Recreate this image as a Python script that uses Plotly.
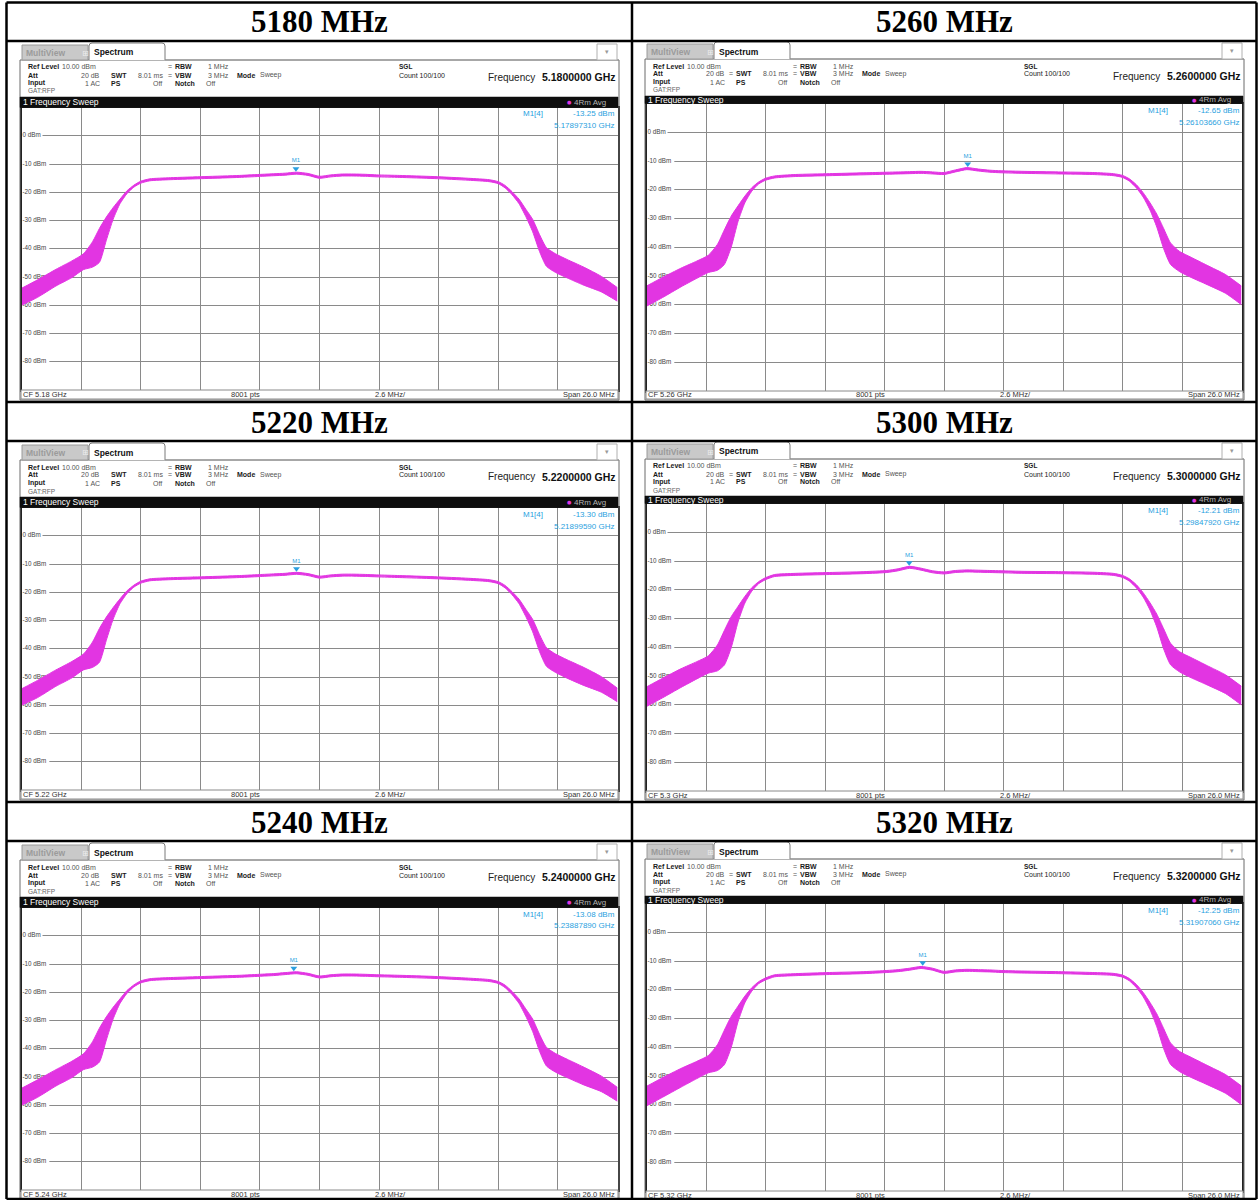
import plotly.graph_objects as go

W, H = 1259, 1200

# ---------------- data ----------------
TITLES = ["5180 MHz", "5260 MHz", "5220 MHz", "5300 MHz", "5240 MHz", "5320 MHz"]
CENTER_GHZ = [5.18, 5.26, 5.22, 5.30, 5.24, 5.32]
SPAN_MHZ = 26.0
POINTS = 8001
Y_TICKS = [0, -10, -20, -30, -40, -50, -60, -70, -80]
REF_LEVEL = 10
Y_BOTTOM = -90

FREQ_OFFSET_MHZ = [-13, -12.3, -11.5, -10.8, -10.3, -9.9, -9.6, -9.3, -9.0, -8.7, -8.4, -8.1, -7.8, -7.4,
                   -6.5, -5, -3.5, -2.5, -2.0, -1.5, -1.0, -0.5, 0, 0.5, 1.0, 1.5, 2.0, 2.5, 3.5, 5, 6.5,
                   7.4, 7.8, 8.1, 8.4, 8.7, 9.0, 9.3, 9.6, 9.9, 10.3, 10.8, 11.5, 12.3, 13]

UP_5180 = [-54.0, -51.0, -47.3, -44.3, -41.8, -37.5, -32.8, -28.8, -25.4, -22.4, -19.5, -17.5, -16.1, -15.25,
           -14.85, -14.45, -14.05, -13.65, -13.45, -13.25, -12.9, -13.35, -14.35, -13.85, -13.55, -13.55, -13.65,
           -13.85, -14.05, -14.45, -15.05, -15.55, -16.25, -17.6, -19.8, -22.4, -26.0, -29.6, -35.0, -39.6,
           -41.8, -43.8, -46.4, -49.8, -53.8]
LO_5180 = [-60.0, -57.2, -53.2, -50.2, -47.4, -46.5, -44.8, -37.0, -29.5, -24.0, -20.5, -18.2, -16.8, -15.95,
           -15.55, -15.15, -14.75, -14.35, -14.15, -13.95, -13.6, -14.05, -15.05, -14.55, -14.25, -14.25, -14.35,
           -14.55, -14.75, -15.15, -15.75, -16.25, -16.95, -18.5, -20.9, -24.0, -28.6, -34.0, -41.0, -46.2,
           -48.4, -50.3, -52.8, -55.3, -58.6]

UP_5220 = [-54.2, -51.2, -47.5, -44.5, -41.9, -37.6, -32.8, -28.8, -25.4, -22.3, -19.5, -17.5, -16.1, -15.25,
           -14.85, -14.5, -14.1, -13.7, -13.5, -13.3, -12.95, -13.4, -14.3, -13.85, -13.6, -13.6, -13.7,
           -13.85, -14.1, -14.5, -15.05, -15.55, -16.25, -17.6, -19.8, -22.4, -26.0, -29.6, -35.0, -39.6,
           -41.9, -43.9, -46.5, -49.9, -54.0]
LO_5220 = [-60.0, -57.3, -53.3, -50.3, -47.5, -46.6, -44.8, -37.0, -29.5, -24.0, -20.5, -18.2, -16.8, -15.95,
           -15.55, -15.2, -14.8, -14.4, -14.2, -14.0, -13.65, -14.1, -15.0, -14.55, -14.3, -14.3, -14.4,
           -14.55, -14.8, -15.2, -15.75, -16.25, -16.95, -18.5, -20.9, -24.0, -28.6, -34.0, -41.0, -46.2,
           -48.4, -50.4, -52.9, -55.4, -58.8]

UP_5240 = [-54.0, -51.0, -47.4, -44.4, -41.8, -37.5, -32.7, -28.7, -25.3, -22.3, -19.4, -17.4, -16.0, -15.2,
           -14.8, -14.4, -14.0, -13.6, -13.4, -13.05, -12.75, -13.3, -14.25, -13.8, -13.55, -13.55, -13.65,
           -13.8, -14.0, -14.4, -15.0, -15.5, -16.2, -17.5, -19.7, -22.3, -25.9, -29.5, -34.9, -39.5,
           -41.7, -43.7, -46.4, -49.7, -53.7]
LO_5240 = [-60.0, -57.2, -53.2, -50.2, -47.4, -46.5, -44.7, -36.9, -29.4, -23.9, -20.4, -18.1, -16.7, -15.9,
           -15.5, -15.1, -14.7, -14.3, -14.1, -13.75, -13.45, -14.0, -14.95, -14.5, -14.25, -14.25, -14.35,
           -14.5, -14.7, -15.1, -15.7, -16.2, -16.9, -18.4, -20.8, -23.9, -28.5, -33.9, -40.9, -46.1,
           -48.3, -50.2, -52.7, -55.2, -58.6]

UP_5260 = [-53.5, -50.5, -47.3, -44.8, -42.8, -39.0, -34.0, -29.2, -25.6, -22.2, -19.3, -17.3, -16.0, -15.2,
           -14.7, -14.4, -14.1, -13.9, -13.8, -13.7, -13.6, -13.8, -14.0, -13.1, -12.3, -12.8, -13.2,
           -13.4, -13.6, -13.8, -14.0, -14.4, -15.0, -16.2, -18.2, -21.0, -24.5, -28.5, -33.5, -38.5,
           -41.5, -43.5, -46.3, -49.5, -53.5]
LO_5260 = [-60.5, -57.5, -53.8, -50.8, -48.8, -48.0, -46.0, -40.0, -31.0, -24.5, -20.5, -18.0, -16.7, -15.9,
           -15.4, -15.1, -14.8, -14.6, -14.5, -14.4, -14.3, -14.5, -14.7, -13.8, -13.0, -13.5, -13.9,
           -14.1, -14.3, -14.5, -14.7, -15.1, -15.7, -17.0, -19.3, -22.5, -27.0, -33.0, -40.5, -46.0,
           -48.5, -50.5, -53.0, -56.0, -60.0]

UP_5300 = [-53.8, -50.8, -47.5, -45.0, -43.0, -39.2, -34.2, -29.4, -25.8, -22.3, -19.3, -17.2, -15.8, -14.7,
           -14.3, -14.0, -13.7, -13.3, -12.7, -11.85, -12.5, -13.4, -13.8, -13.3, -13.1, -13.2, -13.3,
           -13.4, -13.6, -13.7, -13.9, -14.3, -15.0, -16.2, -18.2, -21.0, -24.5, -28.5, -33.6, -38.6,
           -41.6, -43.6, -46.4, -49.6, -53.6]
LO_5300 = [-60.6, -57.6, -54.0, -51.0, -49.0, -48.2, -46.2, -40.2, -31.2, -24.6, -20.5, -17.9, -16.5, -15.4,
           -15.0, -14.7, -14.4, -14.0, -13.4, -12.55, -13.2, -14.1, -14.5, -14.0, -13.8, -13.9, -14.0,
           -14.1, -14.3, -14.4, -14.6, -15.0, -15.7, -17.0, -19.3, -22.5, -27.0, -33.0, -40.6, -46.1,
           -48.6, -50.6, -53.1, -56.1, -60.1]

UP_5320 = [-53.6, -50.6, -47.4, -44.9, -42.9, -39.1, -34.1, -29.3, -25.7, -22.2, -19.3, -17.2, -15.9, -14.8,
           -14.4, -14.0, -13.7, -13.3, -13.0, -12.5, -11.9, -12.5, -13.6, -13.1, -12.9, -13.0, -13.1,
           -13.3, -13.5, -13.7, -14.0, -14.3, -14.9, -16.1, -18.1, -20.9, -24.4, -28.4, -33.5, -38.5,
           -41.5, -43.5, -46.3, -49.5, -53.5]
LO_5320 = [-60.4, -57.4, -53.9, -50.9, -48.9, -48.1, -46.1, -40.1, -31.1, -24.5, -20.5, -17.9, -16.6, -15.5,
           -15.1, -14.7, -14.4, -14.0, -13.7, -13.2, -12.6, -13.2, -14.3, -13.8, -13.6, -13.7, -13.8,
           -14.0, -14.2, -14.4, -14.7, -15.0, -15.6, -16.9, -19.2, -22.4, -26.9, -32.9, -40.5, -46.0,
           -48.5, -50.5, -53.0, -56.0, -60.0]

UPPER = [UP_5180, UP_5260, UP_5220, UP_5300, UP_5240, UP_5320]
LOWER = [LO_5180, LO_5260, LO_5220, LO_5300, LO_5240, LO_5320]

MARKER_FREQ_GHZ = [5.17897310, 5.26103660, 5.21899590, 5.29847920, 5.23887890, 5.31907060]
MARKER_DBM = [-13.25, -12.65, -13.30, -12.21, -13.08, -12.25]

# ---------------- styling / geometry ----------------
MAG = "#e235e2"
BLUE = "#2a9fe0"
SANS = "Liberation Sans"
SERIF = "Liberation Serif"

COLS = [
    dict(ox=20, oy=43, bar_top=97, plot_top=107.5, plot_bottom=390, pl=21.5, pr=617.5, bottom=400, eq_swt=False),
    dict(ox=645, oy=42, bar_top=96, plot_top=103.5, plot_bottom=391, pl=646.5, pr=1241.5, bottom=400, eq_swt=True),
]
ROW_DY = 400


def X(px):
    return px / W


def Y(py):
    return 1 - py / H


shapes = []
annotations = []


def rect(x0, y0, x1, y1, fill=None, line="#000", lw=1, layer="above"):
    shapes.append(dict(type="rect", xref="paper", yref="paper", x0=X(x0), x1=X(x1), y0=Y(y1), y1=Y(y0),
                       fillcolor=fill if fill else "rgba(0,0,0,0)",
                       line=dict(color=line, width=lw) if lw > 0 else dict(width=0), layer=layer))


def hline(x0, x1, y, color="#000", lw=1):
    shapes.append(dict(type="line", xref="paper", yref="paper", x0=X(x0), x1=X(x1), y0=Y(y), y1=Y(y),
                       line=dict(color=color, width=lw)))


def vline(x, y0, y1, color="#000", lw=1):
    shapes.append(dict(type="line", xref="paper", yref="paper", x0=X(x), x1=X(x), y0=Y(y0), y1=Y(y1),
                       line=dict(color=color, width=lw)))


def txt(x, y, s, size=8, color="#000", anchor="left", family=SANS):
    annotations.append(dict(x=X(x), y=Y(y), xref="paper", yref="paper", text=s, showarrow=False,
                            xanchor=anchor, yanchor="middle", borderpad=0,
                            font=dict(size=size, color=color, family=family)))


fig = go.Figure()
layout_axes = {}

for i in range(6):
    row, col = divmod(i, 2)
    c = COLS[col]
    dy = ROW_DY * row
    ox, oy = c["ox"], c["oy"] + dy
    center = CENTER_GHZ[i]
    n = i + 1
    xa = "x" if n == 1 else f"x{n}"
    ya = "y" if n == 1 else f"y{n}"

    pt, pb = c["plot_top"] + dy, c["plot_bottom"] + dy
    layout_axes[f"xaxis{'' if n == 1 else n}"] = dict(
        domain=[X(c["pl"]), X(c["pr"])], range=[-SPAN_MHZ / 2, SPAN_MHZ / 2], anchor=ya,
        showgrid=True, gridcolor="#8a8a8a", gridwidth=1, tick0=-SPAN_MHZ / 2, dtick=SPAN_MHZ / 10,
        showticklabels=False, ticks="", zeroline=False, showline=True, linecolor="#222", linewidth=1.5,
        mirror=True, fixedrange=True)
    layout_axes[f"yaxis{'' if n == 1 else n}"] = dict(
        domain=[Y(pb), Y(pt)], range=[Y_BOTTOM, REF_LEVEL], anchor=xa,
        showgrid=True, gridcolor="#8a8a8a", gridwidth=1, tick0=Y_BOTTOM, dtick=10,
        showticklabels=False, ticks="", zeroline=False, showline=True, linecolor="#222", linewidth=1.5,
        mirror=True, fixedrange=True)

    # white backgrounds behind level labels (above grid, below traces)
    plot_w_px = c["pr"] - c["pl"]
    plot_h_px = pb - pt
    px_to_mhz = SPAN_MHZ / plot_w_px
    labels = [f"-{abs(v)} dBm" if v < 0 else f"{v} dBm" for v in Y_TICKS]
    for v, lab in zip(Y_TICKS, labels):
        wpx = len(lab) * 3.4 + 4
        shapes.append(dict(type="rect", xref=xa, yref=ya, layer="between",
                           x0=-SPAN_MHZ / 2, x1=-SPAN_MHZ / 2 + wpx * px_to_mhz,
                           y0=v - 3.5 * 100 / plot_h_px, y1=v + 3.5 * 100 / plot_h_px,
                           fillcolor="white", line=dict(width=0)))
    fig.add_trace(go.Scatter(x=[-SPAN_MHZ / 2 + 1.0 * px_to_mhz] * len(Y_TICKS), y=Y_TICKS, text=labels,
                             mode="text", textposition="middle right", xaxis=xa, yaxis=ya, hoverinfo="skip",
                             textfont=dict(size=6.3, color="#444", family=SANS), cliponaxis=False))

    # trace envelope (min/max of the averaged sweep)
    fig.add_trace(go.Scatter(x=FREQ_OFFSET_MHZ, y=LOWER[i], mode="lines", xaxis=xa, yaxis=ya,
                             line=dict(color=MAG, width=1, shape="spline", smoothing=0.6),
                             hoverinfo="skip"))
    fig.add_trace(go.Scatter(x=FREQ_OFFSET_MHZ, y=UPPER[i], mode="lines", xaxis=xa, yaxis=ya,
                             fill="tonexty", fillcolor=MAG,
                             line=dict(color=MAG, width=1, shape="spline", smoothing=0.6),
                             hoverinfo="skip"))

    # marker M1
    mk_off = (MARKER_FREQ_GHZ[i] - center) * 1000
    fig.add_trace(go.Scatter(x=[mk_off], y=[MARKER_DBM[i] + 1.6], mode="markers+text", text=["M1"],
                             textposition="top center", xaxis=xa, yaxis=ya, hoverinfo="skip",
                             marker=dict(symbol="triangle-down", size=6, color=BLUE),
                             textfont=dict(size=6, color=BLUE, family=SANS)))

    # ---------- instrument chrome ----------
    bottom = c["bottom"] + dy
    rect(ox, oy + 17, ox + 599, bottom, fill=None, line="#6a6a6a", lw=1)
    # MultiView tab
    rect(ox + 2, oy + 2, ox + 68, oy + 17, fill="#c9c9c9", line="#9a9a9a", lw=1)
    txt(ox + 5, oy + 10, "<b>MultiView</b>", size=8.5, color="#9b9b9b")
    txt(ox + 61, oy + 10, "⊞", size=8, color="#eeeeee", family="DejaVu Sans")
    # Spectrum tab (rounded top)
    x0, x1, y0, y1 = X(ox + 69), X(ox + 145), Y(oy + 17), Y(oy)
    r = 3 / W
    rv = 3 / H
    shapes.append(dict(type="path", xref="paper", yref="paper",
                       path=f"M{x0},{y0} L{x0},{y1 - rv} Q{x0},{y1} {x0 + r},{y1} L{x1 - r},{y1} "
                            f"Q{x1},{y1} {x1},{y1 - rv} L{x1},{y0}",
                       fillcolor="white", line=dict(color="#7a7a7a", width=1)))
    txt(ox + 73, oy + 9.5, "<b>Spectrum</b>", size=8.5, color="#111")
    hline(ox + 145, ox + 599, oy + 17, color="#9a9a9a", lw=1)
    rect(ox + 577, oy + 1, ox + 597, oy + 17, fill="white", line="#b0b0b0", lw=1)
    txt(ox + 587, oy + 9, "▾", size=7, color="#999", anchor="center", family="DejaVu Sans")

    # header lines
    l1, l2, l3, l4 = oy + 24, oy + 32, oy + 40, oy + 48
    lab_c, val_c = "#1a1a1a", "#555555"
    fs = 7
    txt(ox + 7, l1, "<b>Ref Level</b>", fs, lab_c)
    txt(ox + 41, l1, f"{REF_LEVEL:.2f} dBm", fs, val_c)
    txt(ox + 147, l1, "=", fs, val_c)
    txt(ox + 154, l1, "<b>RBW</b>", fs, lab_c)
    txt(ox + 187, l1, "1 MHz", fs, val_c)
    txt(ox + 378, l1, "<b>SGL</b>", 6.5, lab_c)

    txt(ox + 7, l2, "<b>Att</b>", fs, lab_c)
    txt(ox + 81, l2, "20 dB", fs, val_c, anchor="right")
    if c["eq_swt"]:
        txt(ox + 83, l2, "=", fs, val_c)
    txt(ox + 90, l2, "<b>SWT</b>", fs, lab_c)
    txt(ox + 117, l2, "8.01 ms", fs, val_c)
    txt(ox + 147, l2, "=", fs, val_c)
    txt(ox + 154, l2, "<b>VBW</b>", fs, lab_c)
    txt(ox + 187, l2, "3 MHz", fs, val_c)
    txt(ox + 216, l2, "<b>Mode</b>", fs, lab_c)
    txt(ox + 239, l2, "Sweep", fs, val_c)
    txt(ox + 378, l2, "Count 100/100", 7, lab_c)
    txt(ox + 467, oy + 34, "Frequency", 10, "#222")
    txt(ox + 597, oy + 34, f"<b>{center:.7f} GHz</b>", 10.5, "#111", anchor="right")

    txt(ox + 7, l3, "<b>Input</b>", fs, lab_c)
    txt(ox + 81, l3, "1 AC", fs, val_c, anchor="right")
    txt(ox + 90, l3, "<b>PS</b>", fs, lab_c)
    txt(ox + 143, l3, "Off", fs, val_c, anchor="right")
    txt(ox + 154, l3, "<b>Notch</b>", fs, lab_c)
    txt(ox + 185, l3, "Off", fs, val_c)
    txt(ox + 7, l4, "GAT:RFP", 6.5, "#666")

    # black sweep bar
    bt = c["bar_top"] + dy
    rect(ox, bt, ox + 598, pt, fill="#0e0e0e", line="#0e0e0e", lw=0.5)
    txt(ox + 2, (bt + pt) / 2, "1 Frequency Sweep", 8.5, "#ffffff")
    txt(ox + 549, (bt + pt) / 2, "●", 5, MAG, anchor="center", family="DejaVu Sans")
    txt(ox + 553, (bt + pt) / 2, "4Rm Avg", 8, "#b5b5b5")

    # marker readout
    txt(ox + 502, pt + 6.5, "M1[4]", 8, BLUE)
    txt(ox + 596, pt + 6.5, f"{MARKER_DBM[i]:.2f} dBm", 8, BLUE, anchor="right")
    txt(ox + 596, pt + 18.5, f"{MARKER_FREQ_GHZ[i]:.8f} GHz", 8, BLUE, anchor="right")

    # bottom status bar
    rect(ox + 1, pb, ox + 598, bottom - 1, fill="white", line="#8a8a8a", lw=1)
    sy = (pb + bottom - 1) / 2
    txt(ox + 2, sy, f"CF {center:g} GHz", 7.5, "#333")
    txt(ox + 225, sy, f"{POINTS} pts", 7.5, "#333", anchor="center")
    txt(ox + 370, sy, f"{SPAN_MHZ / 10:.1f} MHz/", 7.5, "#333", anchor="center")
    txt(ox + 596, sy, f"Span {SPAN_MHZ:.1f} MHz", 7.5, "#333", anchor="right")

    # title cell
    tx = 319 if col == 0 else 944.5
    txt(tx, 22 + dy, f"<b>{TITLES[i]}</b>", 31, "#000", anchor="center", family=SERIF)

# table rules
for yy in [2.5, 41, 402, 441, 802, 841, 1199]:
    hline(6.5, 1256.5, yy, color="#000", lw=2.5)
for xx in [6.5, 632, 1256.5]:
    vline(xx, 2.5, 1199, color="#000", lw=2.5)

fig.update_layout(width=W, height=H, margin=dict(l=0, r=0, t=0, b=0), paper_bgcolor="white",
                  plot_bgcolor="white", showlegend=False, shapes=shapes, annotations=annotations,
                  **layout_axes)

fig.write_html("out.html", config={"displayModeBar": False},
               post_script="document.body.style.margin='0px';document.body.style.overflow='hidden';")
